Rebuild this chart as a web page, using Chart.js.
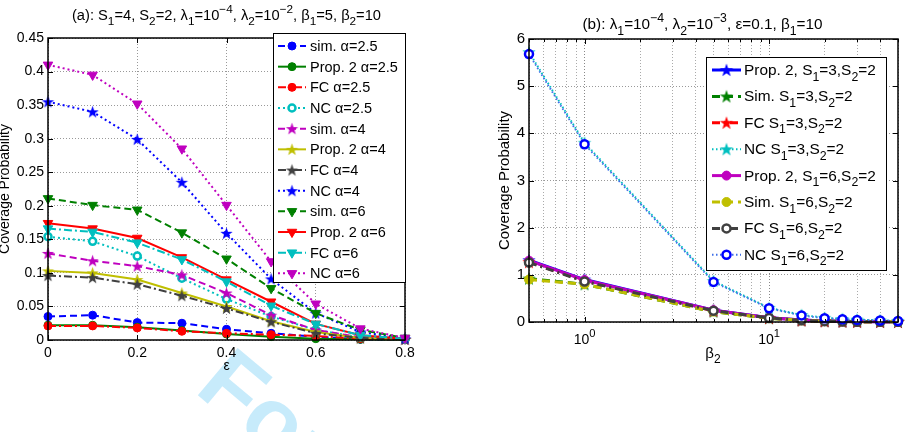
<!DOCTYPE html>
<html>
<head>
<meta charset="utf-8">
<script src="https://cdn.jsdelivr.net/npm/chart.js@4.4.1/dist/chart.umd.min.js"></script>
<style>
  html, body { margin: 0; padding: 0; background: #fff; }
  #wrap { position: relative; width: 906px; height: 432px; overflow: hidden; }
  #wrap canvas { position: absolute; top: 0; }
</style>
</head>
<body>
<div id="wrap">
  <canvas id="chartA" width="453" height="432" style="left:0"></canvas>
  <canvas id="chartB" width="453" height="432" style="left:453px"></canvas>
</div>
<script>
const FONT = '"Liberation Sans", Arial, Helvetica, sans-serif';
Chart.defaults.font.family = FONT;
Chart.defaults.font.size = 14;
Chart.defaults.color = '#000';

// ---- panel (a): coverage vs epsilon ----
const epsA   = [0, 0.1, 0.2, 0.3, 0.4, 0.5, 0.6, 0.7, 0.8];
const simA25  = [0.035, 0.037, 0.026, 0.025, 0.016, 0.010, 0.005, 0.001, 0.0005];
const propA25 = [0.022, 0.022, 0.019, 0.014, 0.009, 0.005, 0.002, 0.001, 0.0003];
const fcA25   = [0.021, 0.021, 0.018, 0.013, 0.010, 0.008, 0.006, 0.002, 0.001];
const ncA25   = [0.154, 0.147, 0.125, 0.092, 0.061, 0.035, 0.015, 0.004, 0.001];
const simA4   = [0.129, 0.118, 0.110, 0.097, 0.070, 0.037, 0.015, 0.004, 0.001];
const propA4  = [0.103, 0.100, 0.090, 0.070, 0.050, 0.028, 0.012, 0.003, 0.001];
const fcA4    = [0.096, 0.093, 0.083, 0.066, 0.047, 0.027, 0.010, 0.003, 0.001];
const ncA4    = [0.355, 0.340, 0.299, 0.235, 0.159, 0.091, 0.040, 0.012, 0.002];
const simA6   = [0.211, 0.201, 0.194, 0.160, 0.121, 0.077, 0.040, 0.015, 0.003];
const propA6  = [0.174, 0.166, 0.152, 0.123, 0.090, 0.057, 0.024, 0.007, 0.002];
const fcA6    = [0.166, 0.161, 0.145, 0.120, 0.087, 0.051, 0.024, 0.007, 0.002];
const ncA6    = [0.410, 0.395, 0.352, 0.285, 0.201, 0.117, 0.054, 0.017, 0.003];
const titleA = '(a): S_1=4, S_2=2, λ_1=10^{−4}, λ_2=10^{−2}, β_1=5, β_2=10';

// ---- panel (b): coverage vs beta2 ----
const betaB  = [0.5, 1, 5, 10, 15, 20, 25, 30, 40, 50];
const propB3 = [1.31, 0.90, 0.25, 0.090, 0.040, 0.020, 0.012, 0.008, 0.004, 0.003];
const simB3  = [0.92, 0.80, 0.22, 0.080, 0.035, 0.018, 0.010, 0.007, 0.004, 0.002];
const fcB3   = [1.27, 0.87, 0.24, 0.085, 0.035, 0.018, 0.011, 0.007, 0.004, 0.003];
const ncB3   = [5.72, 3.80, 0.87, 0.300, 0.150, 0.090, 0.065, 0.050, 0.035, 0.025];
const propB6 = [1.30, 0.89, 0.25, 0.090, 0.040, 0.020, 0.012, 0.008, 0.004, 0.003];
const simB6  = [0.90, 0.80, 0.22, 0.080, 0.035, 0.018, 0.010, 0.007, 0.004, 0.002];
const fcB6   = [1.26, 0.86, 0.24, 0.085, 0.035, 0.018, 0.011, 0.007, 0.004, 0.003];
const ncB6   = [5.68, 3.77, 0.85, 0.290, 0.140, 0.080, 0.060, 0.045, 0.030, 0.020];
const logTicksB = [0.5, 0.6, 0.7, 0.8, 0.9, 1, 2, 3, 4, 5, 6, 7, 8, 9, 10, 20, 30, 40, 50];
const majorB = [1, 10];
const titleB = '(b): λ_1=10^{−4}, λ_2=10^{−3}, ε=0.1, β_1=10';

const C = { blue: '#0000ff', green: '#008000', red: '#ff0000', cyan: '#00bfbf',
            magenta: '#bf00bf', yellow: '#bfbf00', gray: '#404040' };

// split "S_1=10^{-4}" style text into normal / sub / sup pieces
function parseRich(str) {
  const parts = [];
  let buf = '', i = 0;
  while (i < str.length) {
    const ch = str[i];
    if (ch === '_' || ch === '^') {
      if (buf) { parts.push({ t: buf, m: 0 }); buf = ''; }
      let t;
      if (str[i + 1] === '{') { const j = str.indexOf('}', i); t = str.slice(i + 2, j); i = j + 1; }
      else { t = str[i + 1]; i += 2; }
      parts.push({ t, m: ch === '_' ? 1 : -1 });
    } else { buf += ch; i++; }
  }
  if (buf) parts.push({ t: buf, m: 0 });
  return parts;
}

function drawRich(ctx, str, x, y, size, align) {
  const parts = parseRich(str);
  const small = size * 0.8;
  let w = 0;
  parts.forEach(p => {
    ctx.font = (p.m ? small : size) + 'px ' + FONT;
    p.w = ctx.measureText(p.t).width;
    w += p.w;
  });
  let cx = align === 'center' ? x - w / 2 : (align === 'right' ? x - w : x);
  ctx.save();
  ctx.textAlign = 'left';
  ctx.textBaseline = 'alphabetic';
  ctx.fillStyle = '#000';
  parts.forEach(p => {
    ctx.font = (p.m ? small : size) + 'px ' + FONT;
    const dy = p.m === 1 ? size * 0.36 : (p.m === -1 ? -size * 0.48 : 0);
    ctx.fillText(p.t, cx, y + dy);
    cx += p.w;
  });
  ctx.restore();
}

function starMarker(color, r) {
  const c = document.createElement('canvas');
  const s = Math.ceil(r * 2 + 2);
  c.width = c.height = s;
  const g = c.getContext('2d');
  g.beginPath();
  for (let k = 0; k < 10; k++) {
    const rad = k % 2 ? r * 0.4 : r;
    const a = -Math.PI / 2 + k * Math.PI / 5;
    g.lineTo(s / 2 + rad * Math.cos(a), s / 2 + 0.5 + rad * Math.sin(a));
  }
  g.closePath();
  g.fillStyle = color;
  g.fill();
  return c;
}

function marker(kind, color, size) {
  if (kind === 'star') return { pointStyle: starMarker(color, size), pointRadius: size, pointBackgroundColor: color, pointBorderColor: color, pointBorderWidth: 0 };
  if (kind === 'tri') return { pointStyle: 'triangle', pointRotation: 180, pointRadius: size, pointBackgroundColor: color, pointBorderColor: color, pointBorderWidth: 1 };
  if (kind === 'ring') return { pointStyle: 'circle', pointRadius: size, pointBackgroundColor: '#fff', pointBorderColor: color, pointBorderWidth: 2.5 };
  return { pointStyle: 'circle', pointRadius: size, pointBackgroundColor: color, pointBorderColor: color, pointBorderWidth: 1 };
}

function series(label, xs, ys, color, dash, kind, size, width) {
  return Object.assign({
    label,
    data: xs.map((x, k) => ({ x, y: ys[k] })),
    borderColor: color, borderWidth: width, borderDash: dash,
    tension: 0, fill: false, clip: false
  }, marker(kind, color, size));
}

// MATLAB draws later lines on top
function stackOrder(list) {
  list.forEach((d, i) => { d.order = list.length - i; });
  return list;
}

const DASH = [7, 4], DOT = [2, 3], DASHDOT = [8, 3, 2, 3];
const DASHB = [8, 5], DOTB = [1.5, 2.5], DASHDOTB = [8, 4, 2, 4];

const datasetsA = stackOrder([
  series('sim. α=2.5',    epsA, simA25,  C.blue,    DASH,    'dot',  4, 2),
  series('Prop. 2 α=2.5', epsA, propA25, C.green,   [],      'dot',  4, 2),
  series('FC α=2.5',      epsA, fcA25,   C.red,     DASHDOT, 'dot',  4, 2),
  series('NC α=2.5',      epsA, ncA25,   C.cyan,    DOT,     'ring', 3.5, 2),
  series('sim. α=4',      epsA, simA4,   C.magenta, DASH,    'star', 6.5, 2),
  series('Prop. 2 α=4',   epsA, propA4,  C.yellow,  [],      'star', 6.5, 2),
  series('FC α=4',        epsA, fcA4,    C.gray,    DASHDOT, 'star', 6.5, 2),
  series('NC α=4',        epsA, ncA4,    C.blue,    DOT,     'star', 6.5, 2),
  series('sim. α=6',      epsA, simA6,   C.green,   DASH,    'tri',  5.5, 2),
  series('Prop. 2 α=6',   epsA, propA6,  C.red,     [],      'tri',  5.5, 2),
  series('FC α=6',        epsA, fcA6,    C.cyan,    DASHDOT, 'tri',  5.5, 2),
  series('NC α=6',        epsA, ncA6,    C.magenta, DOT,     'tri',  5.5, 2)
]);

const datasetsB = stackOrder([
  series('Prop. 2, S_1=3,S_2=2', betaB, propB3, C.blue,    [],       'star', 7, 3),
  series('Sim. S_1=3,S_2=2',     betaB, simB3,  C.green,   DASHB,    'star', 7, 3),
  series('FC S_1=3,S_2=2',       betaB, fcB3,   C.red,     DASHDOTB, 'star', 7, 3),
  series('NC S_1=3,S_2=2',       betaB, ncB3,   C.cyan,    DOTB,     'star', 7, 2),
  series('Prop. 2, S_1=6,S_2=2', betaB, propB6, C.magenta, [],       'dot',  4.5, 3),
  series('Sim. S_1=6,S_2=2',     betaB, simB6,  C.yellow,  DASHB,    'dot',  4.5, 3),
  series('FC S_1=6,S_2=2',       betaB, fcB6,   C.gray,    DASHDOTB, 'ring', 4, 3),
  series('NC S_1=6,S_2=2',       betaB, ncB6,   '#3f6fe8', DOTB,     'ring', 4, 2)
]);
datasetsB[7].pointBorderColor = C.blue;

function frame(chart, majors) {
  const { ctx, chartArea: a, scales } = chart;
  ctx.save();
  ctx.strokeStyle = '#000';
  ctx.lineWidth = 1;
  ctx.beginPath();
  scales.x.ticks.forEach(t => {
    const p = Math.round(scales.x.getPixelForValue(t.value)) + 0.5;
    const L = majors && !majors.includes(t.value) ? 3 : 5;
    ctx.moveTo(p, a.bottom); ctx.lineTo(p, a.bottom - L);
    ctx.moveTo(p, a.top); ctx.lineTo(p, a.top + L);
  });
  scales.y.ticks.forEach(t => {
    const p = Math.round(scales.y.getPixelForValue(t.value)) + 0.5;
    ctx.moveTo(a.left, p); ctx.lineTo(a.left + 5, p);
    ctx.moveTo(a.right, p); ctx.lineTo(a.right - 5, p);
  });
  ctx.stroke();
  ctx.lineWidth = 1.5;
  ctx.strokeRect(a.left, a.top, a.right - a.left, a.bottom - a.top);
  ctx.restore();
}

function drawLegend(chart, L) {
  const ctx = chart.ctx;
  ctx.save();
  ctx.fillStyle = '#fff';
  ctx.fillRect(L.x, L.y, L.w, L.h);
  ctx.strokeStyle = '#000';
  ctx.lineWidth = 1;
  ctx.strokeRect(L.x, L.y, L.w, L.h);
  chart.data.datasets.forEach((ds, i) => {
    const y = L.first + i * L.step;
    ctx.save();
    ctx.strokeStyle = ds.borderColor;
    ctx.lineWidth = ds.borderWidth;
    ctx.setLineDash(ds.borderDash);
    ctx.beginPath();
    ctx.moveTo(L.lx0, y);
    ctx.lineTo(L.lx1, y);
    ctx.stroke();
    ctx.setLineDash([]);
    ctx.fillStyle = ds.pointBackgroundColor;
    ctx.strokeStyle = ds.pointBorderColor;
    ctx.lineWidth = ds.pointBorderWidth;
    Chart.helpers.drawPoint(ctx, {
      pointStyle: ds.pointStyle, radius: ds.pointRadius,
      rotation: ds.pointRotation || 0, borderWidth: ds.pointBorderWidth
    }, (L.lx0 + L.lx1) / 2, y);
    ctx.restore();
    drawRich(ctx, ds.label, L.tx, y + 5, L.size, 'left');
  });
  ctx.restore();
}

function watermark(ctx) {
  ctx.save();
  ctx.translate(238, 338);
  ctx.rotate(40 * Math.PI / 180);
  ctx.font = 'bold 90px ' + FONT;
  ctx.fillStyle = 'rgba(0, 165, 235, 0.22)';
  ctx.textBaseline = 'top';
  ctx.fillText('For Peer Review', 0, 0);
  ctx.restore();
}

const decoA = {
  id: 'decoA',
  beforeDraw(chart) { watermark(chart.ctx); },
  afterDraw(chart) {
    frame(chart, null);
    drawRich(chart.ctx, titleA, 226.5, 20, 14.7, 'center');
    drawLegend(chart, { x: 273.5, y: 33.5, w: 132, h: 249, first: 46, step: 20.67, lx0: 278, lx1: 306, tx: 310, size: 14.5 });
  }
};

const decoB = {
  id: 'decoB',
  afterDraw(chart) {
    const ctx = chart.ctx, xs = chart.scales.x;
    frame(chart, majorB);
    drawRich(ctx, titleB, 249.5, 29, 15.3, 'center');
    majorB.forEach(v => {
      drawRich(ctx, '10^{' + Math.round(Math.log10(v)) + '}', xs.getPixelForValue(v), 344, 14, 'center');
    });
    drawRich(ctx, 'β_2', 260, 358, 15, 'center');
    drawLegend(chart, { x: 253.5, y: 57.5, w: 180, h: 213, first: 70, step: 26.4, lx0: 259, lx1: 288, tx: 291, size: 15.4 });
  }
};

const gridDots = { display: false, dash: [1, 2] };
const fmt = v => String(+Number(v).toFixed(3));

new Chart(document.getElementById('chartA'), {
  type: 'line',
  data: { datasets: datasetsA },
  options: {
    responsive: false,
    animation: false,
    events: [],
    layout: { padding: { left: 0, top: 38, right: 48, bottom: 52 } },
    plugins: { legend: { display: false }, tooltip: { enabled: false } },
    scales: {
      x: {
        type: 'linear', min: 0, max: 0.8,
        afterFit: s => { s.height = 40; },
        ticks: { stepSize: 0.2, padding: 5, autoSkip: false, maxRotation: 0, callback: fmt },
        grid: { color: '#999', drawTicks: false },
        border: gridDots,
        title: { display: true, text: 'ε', font: { size: 14, lineHeight: 0.7 }, padding: { top: 0, bottom: 8.6 } }
      },
      y: {
        type: 'linear', min: 0, max: 0.45,
        afterFit: s => { s.width = 48; },
        ticks: { stepSize: 0.05, padding: 4, autoSkip: false, callback: fmt },
        grid: { color: '#999', drawTicks: false },
        border: gridDots,
        title: { display: true, text: 'Coverage Probability', font: { size: 14, lineHeight: 0.7 }, padding: { top: 0, bottom: 0 } }
      }
    }
  },
  plugins: [decoA]
});

new Chart(document.getElementById('chartB'), {
  type: 'line',
  data: { datasets: datasetsB },
  options: {
    responsive: false,
    animation: false,
    events: [],
    layout: { padding: { left: 0, top: 39, right: 8, bottom: 70 } },
    plugins: { legend: { display: false }, tooltip: { enabled: false } },
    scales: {
      x: {
        type: 'logarithmic', min: 0.5, max: 50,
        afterBuildTicks: s => { s.ticks = logTicksB.map(v => ({ value: v })); },
        afterFit: s => { s.height = 40; },
        ticks: { autoSkip: false, maxRotation: 0, callback: () => '' },
        grid: { color: c => (c.tick && majorB.includes(c.tick.value)) ? '#888' : '#aaa', drawTicks: false },
        border: gridDots
      },
      y: {
        type: 'linear', min: 0, max: 6,
        afterFit: s => { s.width = 76; },
        ticks: { stepSize: 1, padding: 4, autoSkip: false, font: { size: 15 } },
        grid: { color: '#999', drawTicks: false },
        border: gridDots,
        title: { display: true, text: 'Coverage Probability', font: { size: 15, lineHeight: 0.7 }, padding: { top: 47, bottom: 0 } }
      }
    }
  },
  plugins: [decoB]
});
</script>
</body>
</html>
